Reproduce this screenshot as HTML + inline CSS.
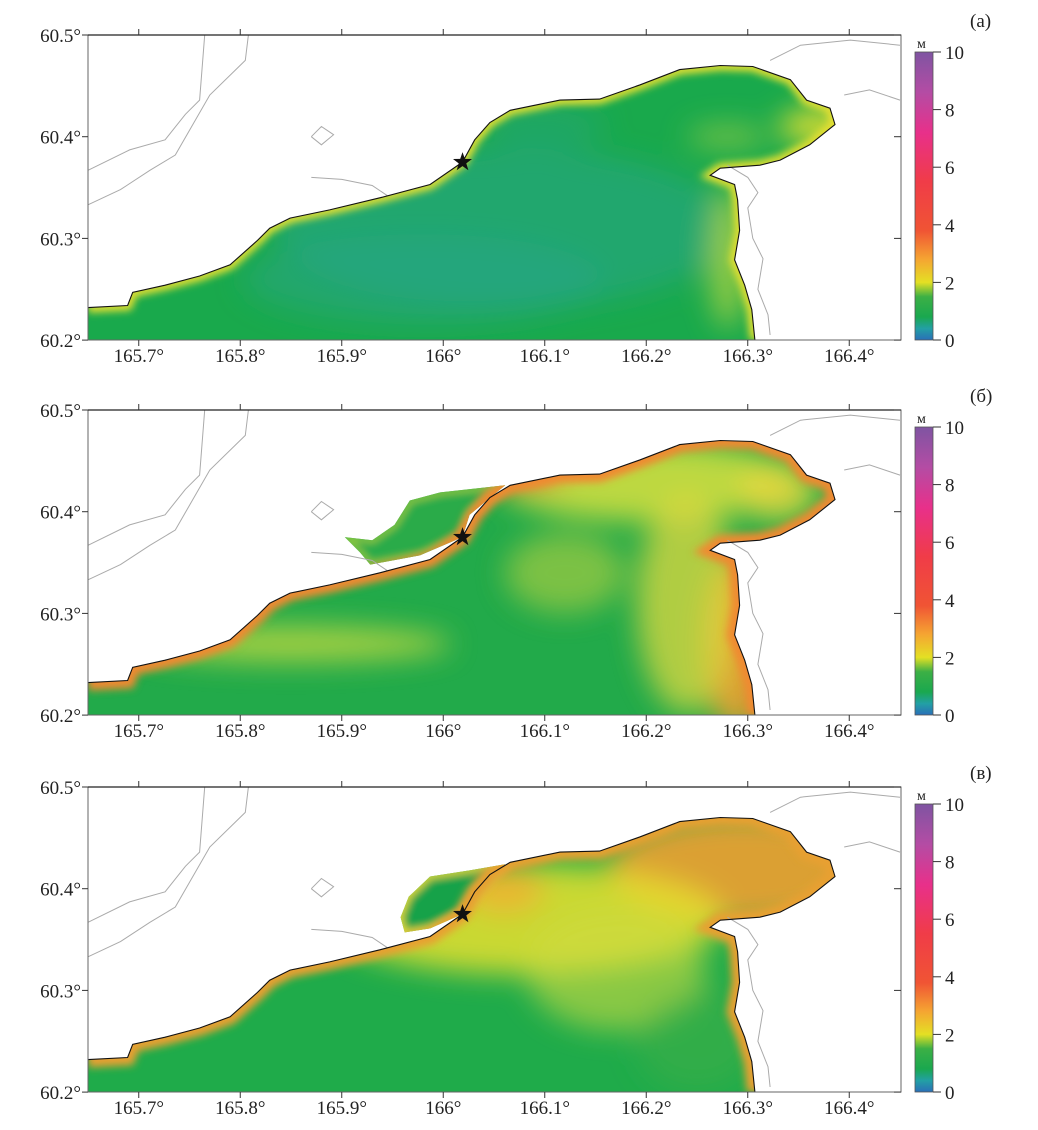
<!DOCTYPE html>
<html><head><meta charset="utf-8"><style>
body{margin:0;background:#fff}
svg{display:block;font-family:"Liberation Serif",serif}
</style></head><body>
<svg id="fig" width="1038" height="1130" viewBox="0 0 1038 1130" xmlns="http://www.w3.org/2000/svg">
<defs>
<filter id="blur" x="-50%" y="-50%" width="200%" height="200%"><feGaussianBlur stdDeviation="14"/></filter>
<filter id="blurS" x="-50%" y="-50%" width="200%" height="200%"><feGaussianBlur stdDeviation="4"/></filter>
<linearGradient id="cbar" x1="0" y1="1" x2="0" y2="0">
<stop offset="0" stop-color="#2a6fb8"/><stop offset="0.04" stop-color="#22a0a4"/><stop offset="0.08" stop-color="#1aa84f"/>
<stop offset="0.15" stop-color="#3cb045"/><stop offset="0.2" stop-color="#e4e024"/><stop offset="0.28" stop-color="#f5a532"/>
<stop offset="0.38" stop-color="#f05434"/><stop offset="0.55" stop-color="#f03c48"/><stop offset="0.72" stop-color="#e8308a"/>
<stop offset="0.86" stop-color="#b44ca4"/><stop offset="1" stop-color="#7f54a2"/></linearGradient>
</defs>
</svg>
<script>
// axis data
const lonTicks=[165.7,165.8,165.9,166.0,166.1,166.2,166.3,166.4];
const lonLabels=["165.7°","165.8°","165.9°","166°","166.1°","166.2°","166.3°","166.4°"];
const latTicks=[60.2,60.3,60.4,60.5];
const latLabels=["60.2°","60.3°","60.4°","60.5°"];
const cbTicks=[0,2,4,6,8,10];
const panelLetters=["(a)","(б)","(в)"];
const starLon=166.019, starLat=60.375;
// coastline (lon, lat)
const coastLon=[165.650,165.689,165.694,165.726,165.760,165.790,165.817,165.829,165.849,165.888,165.938,165.987,166.019,166.031,166.046,166.066,166.115,166.154,166.194,166.233,166.273,166.305,166.342,166.358,166.381,166.386,166.361,166.332,166.312,166.273,166.263,166.287,166.290,166.292,166.287,166.297,166.304,166.307];
const coastLat=[60.232,60.234,60.247,60.254,60.263,60.274,60.298,60.310,60.320,60.328,60.340,60.353,60.375,60.397,60.414,60.426,60.436,60.437,60.451,60.466,60.470,60.469,60.456,60.436,60.428,60.412,60.392,60.377,60.372,60.369,60.362,60.353,60.338,60.308,60.279,60.254,60.230,60.200];
const lagBLon=[165.903,165.930,165.952,165.967,165.997,166.061,166.026,166.019,165.977,165.928,165.918];
const lagBLat=[60.375,60.372,60.387,60.411,60.419,60.426,60.397,60.375,60.357,60.348,60.360];
const lagCLon=[165.958,165.966,165.987,166.026,166.061,166.035,166.019,165.987,165.962];
const lagCLat=[60.372,60.392,60.412,60.418,60.424,60.397,60.375,60.361,60.357];
const grayLines=[
 [[165.650,60.367],[165.691,60.387],[165.726,60.397],[165.746,60.422],[165.760,60.436],[165.765,60.500]],
 [[165.650,60.333],[165.682,60.348],[165.711,60.367],[165.736,60.382],[165.770,60.441],[165.805,60.475],[165.808,60.500]],
 [[166.322,60.475],[166.352,60.490],[166.401,60.495],[166.450,60.490]],
 [[166.395,60.441],[166.420,60.446],[166.450,60.436]],
 [[165.870,60.400],[165.880,60.410],[165.892,60.402],[165.880,60.392],[165.870,60.400]],
 [[165.870,60.360],[165.900,60.358],[165.930,60.352],[165.945,60.342]],
 [[166.280,60.372],[166.300,60.360],[166.310,60.345],[166.300,60.330],[166.305,60.300],[166.315,60.280],[166.310,60.250],[166.320,60.225],[166.322,60.205]]
];
// colour fields per panel: [lon, lat, rx, ry, colour, opacity]
const panelBase=["#19a94c","#22aa4a","#1fab4a"];
const panelBlobs=[
 [[166.06,60.31,230,80,"#25a585",0.6],[165.98,60.26,180,45,"#28a58a",0.5],[166.10,60.41,60,25,"#25a585",0.4],[166.37,60.41,40,18,"#e8e030",0.9],[166.28,60.28,18,70,"#c8d840",0.7],[166.28,60.40,40,12,"#a8d040",0.6]],
 [[166.20,60.43,150,40,"#d8e040",0.85],[166.29,60.27,35,90,"#f0a030",0.9],[166.24,60.31,50,110,"#e0d840",0.75],[166.12,60.34,60,40,"#b8d040",0.6],[165.85,60.27,160,18,"#d8e040",0.7],[166.08,60.435,40,10,"#e84030",0.8],[166.33,60.42,40,30,"#e8d840",0.8]],
 [[166.30,60.42,140,55,"#f0a030",0.9],[166.08,60.37,200,55,"#e8e030",0.85],[166.17,60.32,90,60,"#cfdc40",0.6],[166.06,60.40,40,25,"#f0b030",0.8],[166.25,60.25,60,50,"#40b048",0.5]]
];
const coastEdge=["#e8e030","#f08a30","#e8a030"];

const NS="http://www.w3.org/2000/svg";
const svg=document.getElementById('fig');
const offs=[0,375,752];
function X(lon){return 88+(lon-165.65)*1015;}
function mk(tag,attrs,parent){const e=document.createElementNS(NS,tag);for(const k in attrs)e.setAttribute(k,attrs[k]);(parent||svg).appendChild(e);return e;}
function pts(lons,lats,Y){return lons.map((l,i)=>X(l).toFixed(1)+","+Y(lats[i]).toFixed(1)).join(" ");}

offs.forEach((oy,p)=>{
 const Y=lat=>oy+35+(60.5-lat)*1017;
 const g=mk('g',{});
 
 
 const seaPts=pts(coastLon,coastLat,Y)+" "+X(165.65)+","+Y(60.2);
 const cp=mk('clipPath',{id:'sea'+p},g);
 mk('polygon',{points:seaPts},cp);
 if(p>0){mk('polygon',{points:p==1?pts(lagBLon,lagBLat,Y):pts(lagCLon,lagCLat,Y)},cp);}
 const field=mk('g',{'clip-path':'url(#sea'+p+')'},g);
 
 
 mk('rect',{x:88,y:oy+35,width:813,height:305,fill:panelBase[p]},field);
 const bg=mk('g',{filter:'url(#blur)'},field);
 panelBlobs[p].forEach(b=>{
  const e=mk('ellipse',{cx:X(b[0]),cy:Y(b[1]),rx:b[2],ry:b[3],fill:b[4],opacity:b[5]},bg);
  
  
 });
 if(p>0){const lg=mk('polygon',{points:p==1?pts(lagBLon,lagBLat,Y):pts(lagCLon,lagCLat,Y),fill:p==1?"#2aab48":"#17a24a",stroke:p==1?"#9ccc40":"#e0d840","stroke-width":5,filter:'url(#blurS)'},field);
  
  }
 mk('polyline',{points:pts(coastLon,coastLat,Y),fill:'none',stroke:coastEdge[p],'stroke-width':p==0?10:16,filter:'url(#blurS)'},field);
 grayLines.forEach(L=>{
  const e=mk('polyline',{points:L.map(q=>X(q[0]).toFixed(1)+","+Y(q[1]).toFixed(1)).join(" "),fill:'none',stroke:'#aaa','stroke-width':1},g);
  
  
 });
 const c=mk('polyline',{points:pts(coastLon,coastLat,Y),fill:'none',stroke:'#111','stroke-width':1.1},g);
 
 
 const fr=mk('rect',{x:88,y:oy+35,width:813,height:305,fill:'none',stroke:'#666','stroke-width':1},g);
 
 
 mk('line',{x1:88,y1:oy+35,x2:901,y2:oy+35,stroke:'#222','stroke-width':1.3},g);
 lonTicks.forEach((t,i)=>{
  mk('line',{x1:X(t),y1:oy+35,x2:X(t),y2:oy+29,stroke:'#333'},g);
  mk('line',{x1:X(t),y1:oy+340,x2:X(t),y2:oy+346,stroke:'#333'},g);
  const tx=mk('text',{x:X(t),y:oy+362,'font-size':19,'text-anchor':'middle',fill:'#222'},g);
  tx.textContent=lonLabels[i];
  
  
 });
 latTicks.forEach((t,i)=>{
  mk('line',{x1:88,y1:Y(t),x2:82,y2:Y(t),stroke:'#333'},g);
  mk('line',{x1:901,y1:Y(t),x2:894,y2:Y(t),stroke:'#333'},g);
  const tx=mk('text',{x:81,y:Y(t)+7,'font-size':19,'text-anchor':'end',fill:'#222'},g);
  tx.textContent=latLabels[i];
  
  
 });
 const s=[];for(let k=0;k<10;k++){const r=k%2?4:10,a=-Math.PI/2+k*Math.PI/5;s.push((X(starLon)+r*Math.cos(a)).toFixed(1)+","+(Y(starLat)+r*Math.sin(a)).toFixed(1));}
 const st=mk('polygon',{points:s.join(" "),fill:'#111'},g);
 
 
 const CB=v=>oy+340-v*28.8;
 const cb=mk('rect',{x:915,y:CB(10),width:18,height:288,fill:'url(#cbar)',stroke:'#555','stroke-width':0.8},g);
 
 
 cbTicks.forEach(v=>{
  mk('line',{x1:933,y1:CB(v),x2:941,y2:CB(v),stroke:'#333'},g);
  const tx=mk('text',{x:945,y:CB(v)+7,'font-size':19,fill:'#222'},g);
  tx.textContent=v;
  
  
 });
 const u=mk('text',{x:917,y:oy+48,'font-size':14,fill:'#222'},g);
 u.textContent="м";
 
 
 const lt=mk('text',{x:970,y:oy+27,'font-size':19,fill:'#222'},g);
 lt.textContent=panelLetters[p];
 
 
});
</script>
</body></html>
